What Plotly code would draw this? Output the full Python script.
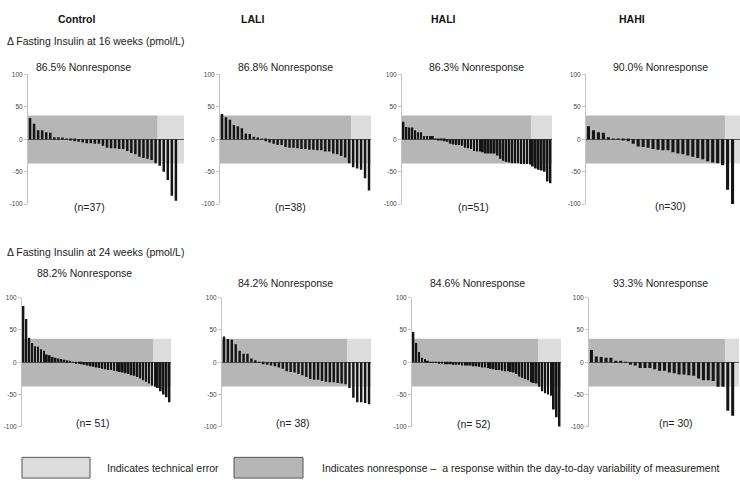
import plotly.graph_objects as go
from plotly.subplots import make_subplots

W, H = 740, 486

groups = ["Control", "LALI", "HALI", "HAHI"]
row_titles = ["\u0394 Fasting Insulin at 16 weeks (pmol/L)",
              "\u0394 Fasting Insulin at 24 weeks (pmol/L)"]

# change in fasting insulin per participant, sorted (pmol/L)
control_16 = [33, 24, 14, 14, 11, 10, 3, 3, 2, 0.5, -2, -3, -4, -5, -6, -6, -7, -7,
              -10, -13, -14, -14, -15, -15, -18, -21, -23, -27, -29, -30, -32, -37,
              -41, -50, -63, -87, -95]
lali_16 = [39, 34, 30, 22, 20, 17, 9, 8, 4, 2, 0.5, -3, -5, -7, -9, -9, -12, -13, -13,
           -14, -15, -15, -16, -16, -17, -17, -19, -19, -22, -23, -26, -28, -37,
           -43, -45, -47, -60, -79]
hali_16 = [27, 19, 18, 18, 14, 11, 11, 5, 5, 5, 5, 0.5, -1, -2, -3, -4, -7, -8, -9,
           -9, -10, -13, -14, -15, -18, -19, -19, -20, -22, -22, -22, -22, -25, -30,
           -33, -35, -36, -37, -37, -37, -38, -38, -38, -39,
           -42, -45, -47, -48, -50, -65, -68]
hahi_16 = [20, 14, 11, 10, 3, 1, 0.5, -2, -3, -7, -11, -12, -13, -15, -16, -17, -17,
           -20, -22, -23, -25, -27, -29, -31, -34, -36, -37, -40,
           -78, -100]
control_24 = [87, 67, 38, 30, 25, 24, 20, 18, 12, 11, 8, 7, 6, 5, 4, 3, 2, 0.5, -1,
              -2, -3, -4, -5, -6, -7, -8, -9, -10, -11, -12, -12, -13, -14, -15, -16,
              -17, -18, -20, -21, -23, -25, -28, -30, -33, -36,
              -38, -40, -45, -50, -54, -62]
lali_24 = [40, 36, 35, 28, 18, 13, 13, 6, 3, 0.5, -3, -4, -5, -6, -8, -10, -14, -15,
           -16, -18, -20, -23, -26, -27, -27, -29, -30, -31, -31, -32, -33, -34,
           -40, -55, -62, -62, -63, -65]
hali_24 = [47, 30, 16, 7, 5, 2, 0.5, 0.5, 0.5, -1, -2, -3, -3, -3, -4, -4, -4, -5, -5,
           -5, -5, -6, -6, -7, -8, -8, -9, -10, -11, -12, -12, -13, -14, -14, -15, -16,
           -18, -22, -24, -26, -28, -31, -32, -33,
           -38, -45, -48, -50, -52, -73, -85, -100]
hahi_24 = [19, 9, 8, 7, 7, 2, 2, 0.5, -4, -5, -9, -9, -9, -11, -13, -13, -16, -17,
           -19, -19, -20, -21, -25, -28, -28, -29, -38, -38,
           -75, -83]

series = [control_16, lali_16, hali_16, hahi_16,
          control_24, lali_24, hali_24, hahi_24]
nonresponse = ["86.5%", "86.8%", "86.3%", "90.0%", "88.2%", "84.2%", "84.6%", "93.3%"]
n_labels = ["(n=37)", "(n=38)", "(n=51)", "(n=30)",
            "(n= 51)", "(n= 38)", "(n= 52)", "(n= 30)"]
split = [32, 33, 44, 28, 45, 32, 44, 28]  # bars before the technical-error zone
band_hi, band_lo = 36.5, -37.5

# layout in pixels (axis x, right edge of band, extra slots after last bar)
px_left = [28, 220, 402, 586, 22, 222, 412, 589]
px_right = [184, 371, 552, 740, 171, 371, 561, 739]
pad = [1.5, 0, 0, 1, 0, 0, 0, 0.8]
px_y = [(71.5, 203), (298, 429)]          # y of +100 / -100 per row
pct_pos = [(83, 64), (285, 64), (476, 64), (660, 64),
           (84, 273), (285, 283), (477, 283), (660, 283)]
n_pos = [(89, 206), (290, 206), (473, 206), (670, 205),
         (93, 425), (293, 425), (474, 426), (676, 425)]
group_x = [76, 252, 443, 632]

FONT = "Liberation Sans, Arial, sans-serif"
DARK_BAND = "#b6b6b6"
LIGHT_BAND = "#dcdcdc"


def px(x):
    return x / W


def py(y):
    return 1 - y / H


def label(x, y, text, size, xanchor="center", color="#222"):
    return dict(x=px(x), y=py(y), xref="paper", yref="paper", text=text,
                showarrow=False, xanchor=xanchor, yanchor="middle",
                font=dict(size=size, color=color, family=FONT))


fig = make_subplots(rows=2, cols=4)
shapes, annotations = [], []

for k, vals in enumerate(series):
    row, col = k // 4 + 1, k % 4 + 1
    n = len(vals)
    ax = "" if k == 0 else str(k + 1)
    x_end = n - 0.5 + pad[k]
    fig.add_trace(go.Bar(
        x=list(range(n)), y=vals, width=0.62,
        marker=dict(color="#151515", line=dict(width=0)),
        showlegend=False, hoverinfo="y",
    ), row=row, col=col)

    y_top, y_bot = px_y[row - 1]
    fig.update_xaxes(domain=[px(px_left[k]), px(px_right[k])],
                     range=[-0.5, x_end], visible=False, row=row, col=col)
    fig.update_yaxes(domain=[py(y_bot), py(y_top)], range=[-100, 100],
                     tickvals=[-100, -50, 0, 50, 100],
                     ticktext=["-100", "-50", "0", "50", "100"],
                     tickfont=dict(size=6.5, color="#444", family=FONT),
                     ticks="outside", ticklen=3, tickcolor="#c4c4c4",
                     showline=True, linecolor="#c4c4c4", linewidth=1,
                     showgrid=False, zeroline=True, zerolinecolor="#555",
                     zerolinewidth=1, row=row, col=col)

    shapes.append(dict(type="rect", xref="x" + ax, yref="y" + ax,
                       x0=-0.5, x1=split[k] - 0.5, y0=band_lo, y1=band_hi,
                       fillcolor=DARK_BAND, line=dict(width=0), layer="below"))
    shapes.append(dict(type="rect", xref="x" + ax, yref="y" + ax,
                       x0=split[k] - 0.5, x1=x_end, y0=band_lo, y1=band_hi,
                       fillcolor=LIGHT_BAND, line=dict(width=0), layer="below"))

    annotations.append(label(*pct_pos[k], nonresponse[k] + " Nonresponse", 10.5))
    annotations.append(label(*n_pos[k], n_labels[k], 10.5))

for g, x in zip(groups, group_x):
    annotations.append(label(x, 15, "<b>" + g + "</b>", 10.5, color="#111"))

for t, y in zip(row_titles, [38, 252]):
    annotations.append(label(5, y, t, 10.5, xanchor="left"))

# legend boxes drawn by hand, as in the original figure
legend_items = [("Indicates technical error", LIGHT_BAND, 22, 90, 105),
                ("Indicates nonresponse \u2013  a response within the day-to-day "
                 "variability of measurement", DARK_BAND, 234, 303, 320)]
for text, color, x0, x1, tx in legend_items:
    shapes.append(dict(type="rect", xref="paper", yref="paper",
                       x0=px(x0), x1=px(x1), y0=py(481), y1=py(460),
                       fillcolor=color, line=dict(color="#555", width=1)))
    annotations.append(label(tx, 470.5, text, 10.5, xanchor="left"))

fig.update_layout(
    width=W, height=H, margin=dict(l=0, r=0, t=0, b=0),
    paper_bgcolor="white", plot_bgcolor="white",
    bargap=0.35, shapes=shapes, annotations=annotations,
    font=dict(family=FONT),
)

# drop the browser's default 8px body margin so the figure sits at the page origin
fig.write_html("out.html", config={"displayModeBar": False},
               post_script="document.body.style.margin='0';")
